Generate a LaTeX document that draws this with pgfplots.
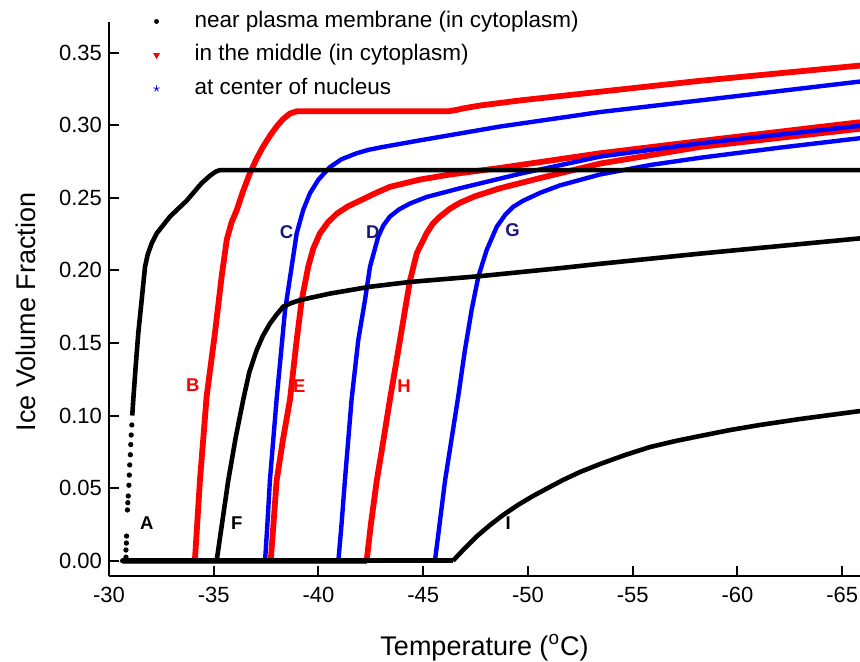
\documentclass[border=0pt]{standalone}
\usepackage{fontspec}
\setmainfont{Liberation Sans}
\usepackage{pgfplots}
\pgfplotsset{compat=1.18}
\definecolor{cred}{RGB}{255,0,0}
\definecolor{cblue}{RGB}{0,0,255}
\definecolor{cnavy}{RGB}{25,25,120}

\begin{document}
\begin{tikzpicture}
\begin{axis}[
  at={(0,0)}, anchor=south west,
  scale only axis, width=375.5pt, height=277pt,
  x dir=reverse,
  xmin=-65.85, xmax=-30, ymin=-0.0105, ymax=0.371,
  axis x line*=bottom, axis y line*=left,
  axis line style={line width=1pt},
  tick align=inside, major tick length=5pt,
  tick style={line width=1pt, black},
  xtick={-30,-35,-40,-45,-50,-55,-60,-65},
  xticklabels={-30,-35,-40,-45,-50,-55,-60,-65},
  ytick={0,0.05,0.10,0.15,0.20,0.25,0.30,0.35},
  yticklabels={0.00,0.05,0.10,0.15,0.20,0.25,0.30,0.35},
  tick label style={font=\fontsize{11}{13}\selectfont},
  xticklabel style={yshift=-2pt},
  xlabel={Temperature (\textsuperscript{o}C)},
  ylabel={Ice Volume Fraction},
  xlabel style={at={(axis description cs:0.5,0)}, anchor=base, yshift=-39.5pt, font=\fontsize{13.5}{16}\selectfont},
  ylabel style={at={(axis description cs:-0.0979,0.4765)}, anchor=base, font=\fontsize{13.5}{16}\selectfont},
  legend style={draw=none, fill=none, at={(axis description cs:0.0587,1.032)}, anchor=north west,
    inner sep=0pt, row sep=0pt, font=\fontsize{11.25}{13}\selectfont,
    nodes={inner sep=2.9pt, text height=8.4pt, text depth=2.6pt}},
  legend cell align=left,
  legend image code/.code={\path (-1pt,0pt) (16pt,0pt); \draw[#1] plot coordinates {(0pt,0pt)};},
  blk/.style={black, line width=2.3pt, line join=round},
  rd/.style={cred, line width=2.9pt, line join=round},
  bl/.style={cblue, line width=2.2pt, line join=round},
]
\addlegendimage{only marks, mark=*, mark size=1pt, black}
\addlegendentry{near plasma membrane (in cytoplasm)}
\addlegendimage{only marks, mark=triangle*, mark options={rotate=180}, mark size=1.6pt, cred}
\addlegendentry{in the middle (in cytoplasm)}
\addlegendimage{only marks, mark=star, mark size=1.6pt, cblue}
\addlegendentry{at center of nucleus}

% in the middle (red): B, E, H
\addplot[rd, forget plot] coordinates {(-30.65,0)(-42.30,0)};
\addplot[rd, forget plot] coordinates {(-34.10,0)(-34.34,0.055)(-34.66,0.113)(-35.06,0.157)(-35.38,0.196)(-35.62,0.221)(-35.85,0.233)(-36.10,0.2415)(-36.40,0.2545)(-36.73,0.267)(-37.05,0.277)(-37.35,0.285)(-37.70,0.293)(-38.00,0.299)(-38.30,0.304)(-38.64,0.308)(-38.97,0.3095)(-46.2,0.3095)(-46.6,0.3105)(-46.9,0.3115)(-47.71,0.3135)(-49.62,0.317)(-53.44,0.323)(-58.21,0.3305)(-65.85,0.341)};
\addplot[rd, forget plot] coordinates {(-37.72,0)(-37.85,0.025)(-38.00,0.055)(-38.30,0.083)(-38.64,0.111)(-38.96,0.152)(-39.20,0.1795)(-39.51,0.2025)(-39.75,0.215)(-40.07,0.2255)(-40.45,0.233)(-40.87,0.239)(-41.40,0.244)(-41.98,0.248)(-42.70,0.253)(-43.41,0.2575)(-44.84,0.2625)(-46.28,0.266)(-48.66,0.2705)(-53.44,0.2806)(-58.21,0.289)(-65.85,0.302)};
\addplot[rd, forget plot] coordinates {(-42.30,0)(-42.50,0.025)(-42.78,0.055)(-43.10,0.083)(-43.41,0.111)(-43.81,0.145)(-44.13,0.1727)(-44.37,0.193)(-44.69,0.2117)(-45.16,0.2255)(-45.45,0.232)(-45.80,0.237)(-46.28,0.2425)(-46.75,0.2465)(-47.47,0.251)(-48.66,0.2565)(-50.57,0.2635)(-53.44,0.2735)(-58.21,0.285)(-65.85,0.2975)};

% at center of nucleus (blue): C, D, G
\addplot[bl, forget plot] coordinates {(-30.65,0)(-45.56,0)};
\addplot[bl, forget plot] coordinates {(-37.45,0)(-37.56,0.025)(-37.68,0.055)(-38.00,0.111)(-38.40,0.172)(-38.72,0.2025)(-38.96,0.2255)(-39.27,0.2415)(-39.59,0.253)(-40.00,0.2625)(-40.54,0.271)(-41.10,0.2765)(-41.82,0.2806)(-42.40,0.283)(-43.09,0.285)(-44.84,0.2895)(-48.66,0.299)(-53.44,0.309)(-58.21,0.317)(-65.85,0.330)};
\addplot[bl, forget plot] coordinates {(-40.95,0)(-41.10,0.025)(-41.26,0.055)(-41.58,0.111)(-41.90,0.152)(-42.22,0.1795)(-42.46,0.2025)(-42.85,0.2231)(-43.10,0.231)(-43.41,0.237)(-43.85,0.242)(-44.37,0.246)(-45.16,0.2505)(-46.75,0.2565)(-49.62,0.2665)(-53.44,0.2783)(-58.21,0.2875)(-65.85,0.2995)};
\addplot[bl, forget plot] coordinates {(-45.56,0)(-45.78,0.025)(-46.04,0.055)(-46.67,0.113)(-46.99,0.145)(-47.31,0.1727)(-47.63,0.1956)(-48.03,0.214)(-48.51,0.230)(-48.90,0.238)(-49.30,0.2438)(-49.78,0.248)(-50.60,0.2535)(-51.53,0.2585)(-53.44,0.266)(-55.82,0.2725)(-58.21,0.2775)(-62.03,0.2845)(-65.85,0.291)};

% near plasma membrane (black): A, F, I
\addplot[black, only marks, mark=*, mark size=1.1pt, forget plot] coordinates {(-30.65,0)(-30.75,0)(-30.81,0.0025)(-30.81,0.0074)(-30.83,0.0122)(-30.84,0.017)(-30.88,0.035)(-30.90,0.040)(-30.92,0.0446)(-30.95,0.052)(-30.97,0.059)(-30.99,0.066)(-31.02,0.073)(-31.04,0.080)(-31.06,0.0866)(-31.09,0.0935)};
\addplot[blk, forget plot] coordinates {(-31.11,0.100)(-31.16,0.111)(-31.28,0.135)(-31.40,0.157)(-31.56,0.1795)(-31.72,0.2025)(-31.85,0.211)(-32.04,0.2186)(-32.28,0.2255)(-32.91,0.237)(-33.71,0.248)(-34.42,0.260)(-34.85,0.2655)(-35.10,0.268)(-35.30,0.269)(-65.85,0.269)};
\addplot[blk, forget plot] coordinates {(-30.65,0)(-46.42,0)};
\addplot[blk, forget plot] coordinates {(-35.14,0)(-35.69,0.055)(-36.05,0.085)(-36.41,0.111)(-36.70,0.130)(-37.05,0.145)(-37.35,0.155)(-37.69,0.1635)(-38.00,0.1695)(-38.32,0.175)(-38.70,0.1775)(-39.12,0.1795)(-40.55,0.184)(-42.46,0.1887)(-44.37,0.192)(-47.71,0.196)(-51.53,0.2015)(-53.44,0.2045)(-58.21,0.2115)(-65.85,0.222)};
\addplot[blk, forget plot] coordinates {(-46.42,0)(-46.99,0.0087)(-47.57,0.0170)(-48.19,0.0246)(-48.81,0.0315)(-49.52,0.0384)(-50.24,0.0446)(-50.95,0.0501)(-51.67,0.0556)(-52.48,0.0611)(-53.44,0.0666)(-54.63,0.0728)(-55.82,0.0783)(-57.02,0.0824)(-58.21,0.0859)(-59.64,0.0900)(-61.07,0.0935)(-62.98,0.0976)(-65.85,0.1031)};

% curve letters
\begin{scope}[every node/.style={font=\bfseries\fontsize{9.25}{11}\selectfont}]
\node[text=black] at (axis cs:-31.80,0.026) {A};
\node[text=black] at (axis cs:-36.10,0.026) {F};
\node[text=black] at (axis cs:-49.06,0.026) {I};
\node[text=cred] at (axis cs:-34.00,0.121) {B};
\node[text=cred] at (axis cs:-39.08,0.120) {E};
\node[text=cred] at (axis cs:-44.08,0.120) {H};
\node[text=cnavy] at (axis cs:-38.48,0.2266) {C};
\node[text=cnavy] at (axis cs:-42.59,0.2266) {D};
\node[text=cnavy] at (axis cs:-49.27,0.2277) {G};
\end{scope}
\end{axis}
\pgfresetboundingbox
\path[use as bounding box] (-54.5pt,-42.5pt) rectangle (375.5pt,288pt);
\end{tikzpicture}
\end{document}
